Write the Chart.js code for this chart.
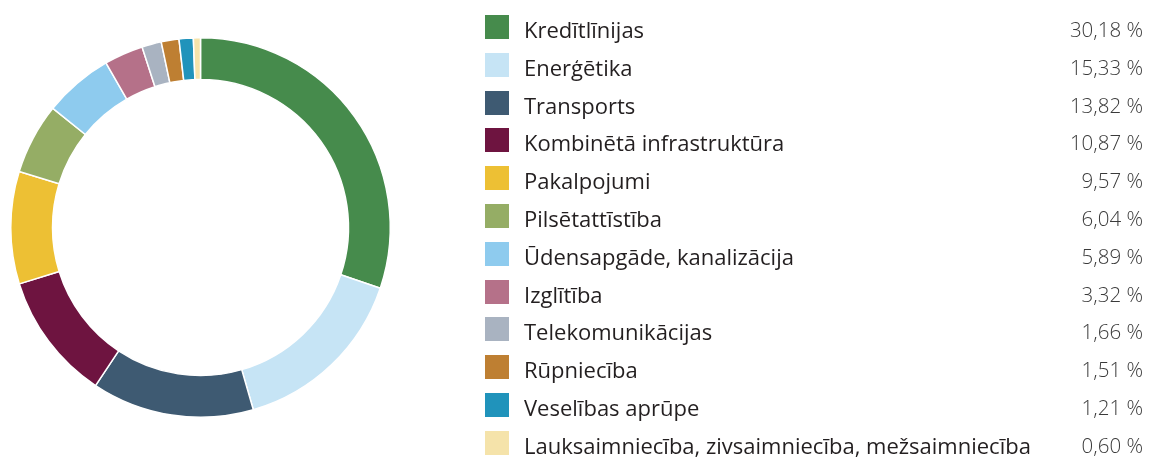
<!DOCTYPE html>
<html lang="lv">
<head>
    <meta charset="UTF-8">
    <title>Nozares</title>
    <script src="https://cdn.jsdelivr.net/npm/chart.js"></script>
</head>
<style>
body{
    margin: 0;
    background: #ffffff;
}
#wrap{
    position: relative;
    width: 1149px;
    height: 457px;
}
#legend{
    position: absolute;
    left: 485px;
    top: 8px;
    width: 660px;
    font-family: "Open Sans", sans-serif;
}
.row{
    position: relative;
    height: 37.8px;
}
.sw{
    position: absolute;
    left: 0;
    top: 7px;
    width: 24px;
    height: 24px;
}
.lab{
    position: absolute;
    left: 39px;
    top: 10px;
    font-size: 22px;
    line-height: 22px;
    color: #231f20;
    white-space: nowrap;
}
.val{
    position: absolute;
    right: 2px;
    top: 11px;
    font-size: 20.5px;
    line-height: 20.5px;
    font-weight: 300;
    color: #3a3a3a;
    white-space: nowrap;
}
</style>
<body>
    <div id="wrap">
        <canvas id="donut" width="1149" height="457"></canvas>
        <div id="legend"></div>
    </div>
</body>
<script>
    var labels = ['Kredītlīnijas', 'Enerģētika', 'Transports', 'Kombinētā infrastruktūra', 'Pakalpojumi',
        'Pilsētattīstība', 'Ūdensapgāde, kanalizācija', 'Izglītība', 'Telekomunikācijas', 'Rūpniecība',
        'Veselības aprūpe', 'Lauksaimniecība, zivsaimniecība, mežsaimniecība'];
    var values = [30.18, 15.33, 13.82, 10.87, 9.57, 6.04, 5.89, 3.32, 1.66, 1.51, 1.21, 0.60];
    var colors = ['#468b4c', '#c6e4f5', '#3e5a72', '#6e1440', '#edc034', '#95ad65',
        '#8ecbee', '#b57189', '#a9b3c1', '#be7f32', '#2093bb', '#f5e3aa'];

    function fmt(v) {
        return v.toFixed(2).replace('.', ',') + ' %';
    }

    document.addEventListener('DOMContentLoaded', function () {
        var legend = document.getElementById('legend');
        labels.forEach(function (name, i) {
            var row = document.createElement('div');
            row.className = 'row';
            row.innerHTML = '<div class="sw" style="background:' + colors[i] + '"></div>' +
                '<div class="lab">' + name + '</div>' +
                '<div class="val">' + fmt(values[i]) + '</div>';
            legend.appendChild(row);
        });

        var ctx = document.getElementById('donut').getContext('2d');
        window.myChart = new Chart(ctx, {
            type: 'doughnut',
            data: {
                labels: labels,
                datasets: [{
                    data: values,
                    backgroundColor: colors,
                    borderColor: '#ffffff',
                    borderWidth: 1.5
                }]
            },
            options: {
                responsive: false,
                animation: false,
                cutout: '78%',
                layout: {
                    padding: { left: 10, top: 37, right: 758, bottom: 39 }
                },
                plugins: {
                    legend: { display: false },
                    tooltip: { enabled: false }
                }
            }
        });
    });
</script>
</html>
